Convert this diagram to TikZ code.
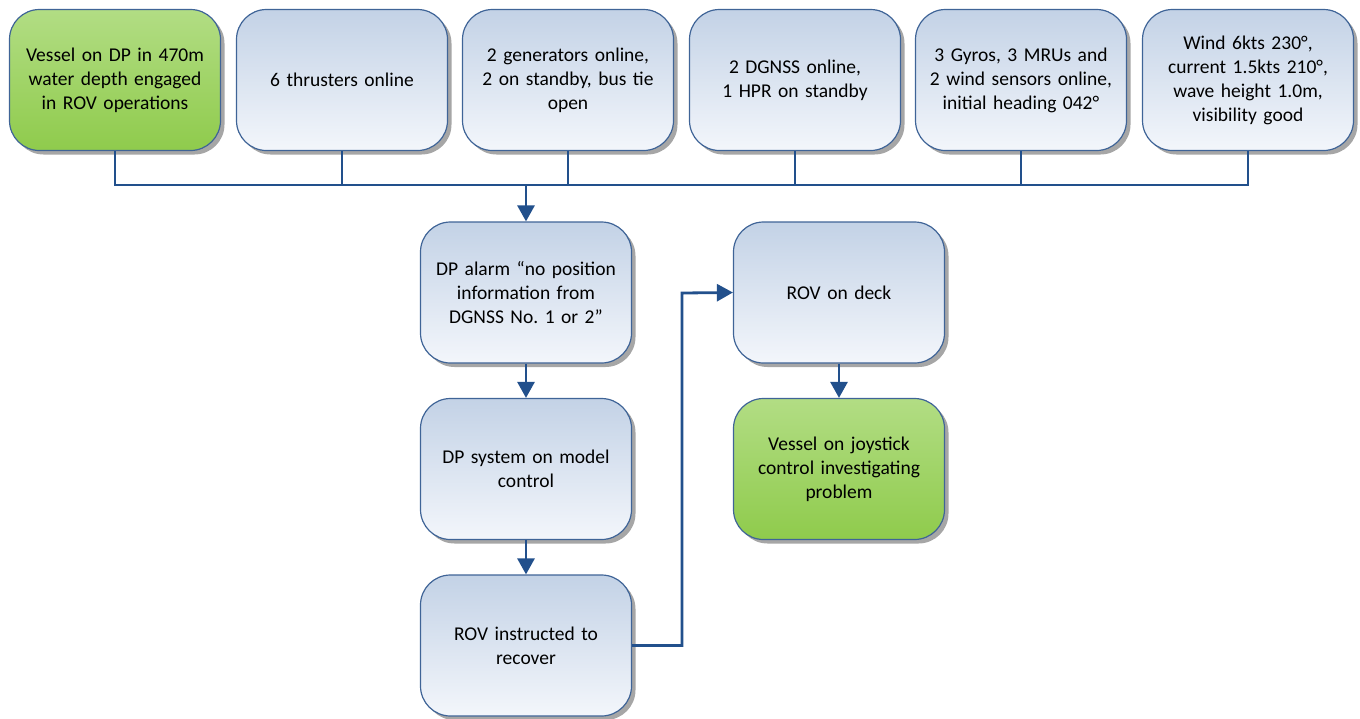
\documentclass[tikz,border=0pt]{standalone}
\usepackage{fontspec}
\setmainfont{Carlito}
\frenchspacing
\usetikzlibrary{arrows.meta,shadows}
\definecolor{linec}{HTML}{22508C}
\definecolor{borderc}{HTML}{3F6497}
\definecolor{bluetop}{HTML}{C3D2E6}
\definecolor{bluebot}{HTML}{F3F6FB}
\definecolor{greentop}{HTML}{B2DD84}
\definecolor{greenbot}{HTML}{8FCB4C}
\tikzset{
  box/.style={rectangle, rounded corners=30pt, draw=borderc, line width=1.2pt,
    minimum width=211pt, minimum height=141pt, text width=200pt, align=center,
    font=\fontsize{19.5}{24}\selectfont,
    drop shadow={shadow xshift=4pt, shadow yshift=-4pt, fill=black!35, opacity=1}},
  bluebox/.style={box, top color=bluetop, bottom color=bluebot},
  greenbox/.style={box, top color=greentop, bottom color=greenbot},
  conn/.style={draw=linec, line width=2.8pt},
  arr/.style={conn, -{Triangle[width=17pt,length=16pt]}}
}
\begin{document}
\begin{tikzpicture}[x=1pt,y=-1pt]
\useasboundingbox (0,0) rectangle (1360,718);
\node[greenbox] (t1) at (115,80) {Vessel on DP in 470m\\ water depth engaged\\ in ROV operations};
\node[bluebox] (t2) at (342,80) {6 thrusters online};
\node[bluebox] (t3) at (568,80) {2 generators online,\\ 2 on standby, bus tie\\ open};
\node[bluebox] (t4) at (795,80) {2 DGNSS online,\\ 1 HPR on standby};
\node[bluebox] (t5) at (1021,80) {3 Gyros, 3 MRUs and\\ 2 wind sensors online,\\ initial heading 042°};
\node[bluebox] (t6) at (1248,80) {Wind 6kts 230°,\\ current 1.5kts 210°,\\ wave height 1.0m,\\ visibility good};
\node[bluebox] (m1) at (526,292.5) {DP alarm “no position\\ information from\\ DGNSS No. 1 or 2”};
\node[bluebox] (m2) at (526,469) {DP system on model\\ control};
\node[bluebox] (m3) at (526,645.5) {ROV instructed to\\ recover};
\node[bluebox] (r1) at (839,292.5) {ROV on deck};
\node[greenbox] (r2) at (839,469) {Vessel on joystick\\ control investigating\\ problem};
\coordinate (bus) at (526,185);
\coordinate (jog) at (682,293);
\foreach \n in {t1,t2,t3,t4,t5,t6} \draw[conn] (\n.south) -- (\n.south |- bus);
\draw[conn, line cap=rect] (t1.south |- bus) -- (t6.south |- bus);
\draw[arr] (bus) -- (m1.north);
\draw[arr] (m1.south) -- (m2.north);
\draw[arr] (m2.south) -- (m3.north);
\draw[arr] (m3.east) -| (jog) -- (r1.west);
\draw[arr] (r1.south) -- (r2.north);
\end{tikzpicture}
\end{document}
